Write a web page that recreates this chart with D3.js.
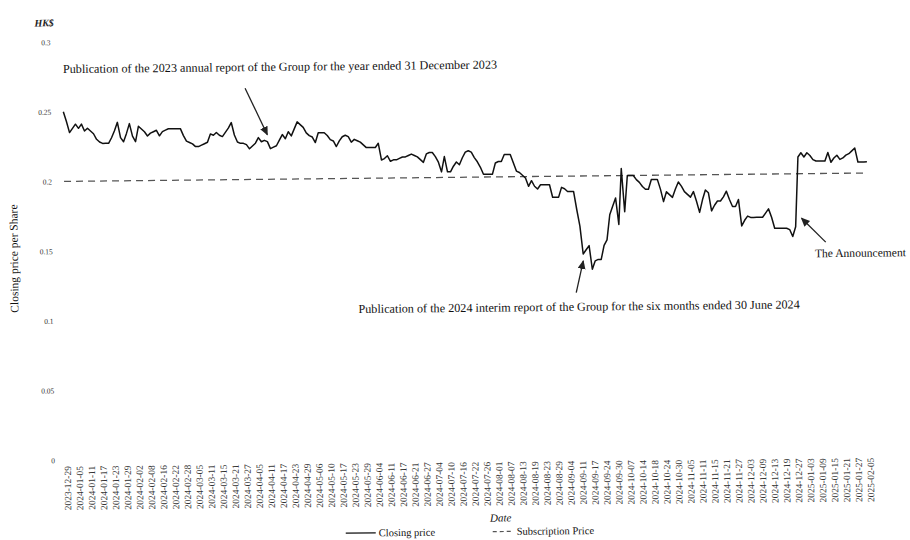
<!DOCTYPE html>
<html>
<head>
<meta charset="utf-8">
<script src="https://cdn.jsdelivr.net/npm/d3@7"></script>
<style>
  body { margin: 0; background: #fff; }
  svg { display: block; font-family: "Liberation Serif", "DejaVu Serif", serif; }
</style>
</head>
<body>
<div id="chart"></div>
<script>
// x tick labels, one every 4 trading days
const tickLabels = [
  "2023-12-29", "2024-01-05", "2024-01-11", "2024-01-17", "2024-01-23", "2024-01-29",
  "2024-02-02", "2024-02-08", "2024-02-16", "2024-02-22", "2024-02-28", "2024-03-05",
  "2024-03-11", "2024-03-15", "2024-03-21", "2024-03-27", "2024-04-05", "2024-04-11",
  "2024-04-17", "2024-04-23", "2024-04-29", "2024-05-06", "2024-05-10", "2024-05-17",
  "2024-05-23", "2024-05-29", "2024-06-04", "2024-06-11", "2024-06-17", "2024-06-21",
  "2024-06-27", "2024-07-04", "2024-07-10", "2024-07-16", "2024-07-22", "2024-07-26",
  "2024-08-01", "2024-08-07", "2024-08-13", "2024-08-19", "2024-08-23", "2024-08-29",
  "2024-09-04", "2024-09-11", "2024-09-17", "2024-09-24", "2024-09-30", "2024-10-07",
  "2024-10-14", "2024-10-18", "2024-10-24", "2024-10-30", "2024-11-05", "2024-11-11",
  "2024-11-15", "2024-11-21", "2024-11-27", "2024-12-03", "2024-12-09", "2024-12-13",
  "2024-12-19", "2024-12-27", "2025-01-03", "2025-01-09", "2025-01-15", "2025-01-21",
  "2025-01-27", "2025-02-05"
];
const tickStep = 4;

// daily closing price (HK$)
const closingPrice = [
  0.250, 0.243, 0.235, 0.238, 0.241, 0.238, 0.241, 0.236, 0.238, 0.236,
  0.234, 0.230, 0.228, 0.227, 0.227, 0.227, 0.231, 0.236, 0.242, 0.231,
  0.228, 0.234, 0.241, 0.232, 0.228, 0.239, 0.237, 0.235, 0.232, 0.234,
  0.235, 0.236, 0.232, 0.235, 0.236, 0.237, 0.237, 0.237, 0.237, 0.237,
  0.232, 0.228, 0.227, 0.226, 0.224, 0.224, 0.225, 0.226, 0.227, 0.233,
  0.232, 0.234, 0.232, 0.231, 0.234, 0.237, 0.241, 0.232, 0.227, 0.226,
  0.226, 0.225, 0.222, 0.224, 0.226, 0.230, 0.227, 0.228, 0.227, 0.222,
  0.223, 0.224, 0.228, 0.232, 0.229, 0.234, 0.231, 0.236, 0.241, 0.239,
  0.237, 0.233, 0.231, 0.230, 0.226, 0.233, 0.233, 0.233, 0.231, 0.228,
  0.227, 0.223, 0.227, 0.230, 0.231, 0.230, 0.226, 0.228, 0.227, 0.226,
  0.224, 0.222, 0.222, 0.222, 0.222, 0.225, 0.213, 0.214, 0.216, 0.212,
  0.213, 0.213, 0.214, 0.215, 0.215, 0.216, 0.217, 0.216, 0.215, 0.213,
  0.211, 0.217, 0.218, 0.218, 0.215, 0.211, 0.204, 0.215, 0.204, 0.204,
  0.208, 0.211, 0.209, 0.214, 0.218, 0.219, 0.218, 0.214, 0.211, 0.207,
  0.202, 0.202, 0.202, 0.202, 0.210, 0.211, 0.211, 0.216, 0.216, 0.216,
  0.210, 0.204, 0.203, 0.201, 0.199, 0.193, 0.197, 0.193, 0.191, 0.194,
  0.194, 0.194, 0.194, 0.185, 0.185, 0.185, 0.192, 0.191, 0.189, 0.189,
  0.189, 0.176, 0.164, 0.144, 0.147, 0.150, 0.133, 0.139, 0.140, 0.140,
  0.150, 0.154, 0.172, 0.178, 0.184, 0.165, 0.205, 0.174, 0.200, 0.200,
  0.200, 0.197, 0.195, 0.192, 0.190, 0.190, 0.197, 0.197, 0.197, 0.190,
  0.181, 0.188, 0.186, 0.184, 0.190, 0.195, 0.192, 0.188, 0.186, 0.184,
  0.188, 0.181, 0.173, 0.182, 0.189, 0.187, 0.174, 0.178, 0.181, 0.181,
  0.184, 0.188, 0.182, 0.177, 0.177, 0.182, 0.163, 0.167, 0.170, 0.169,
  0.169, 0.169, 0.169, 0.169, 0.172, 0.175, 0.169, 0.161, 0.161, 0.161,
  0.161, 0.161, 0.160, 0.155, 0.162, 0.212, 0.215, 0.212, 0.215, 0.213,
  0.210, 0.209, 0.209, 0.209, 0.209, 0.215, 0.208, 0.211, 0.213, 0.210,
  0.211, 0.213, 0.214, 0.216, 0.218, 0.208, 0.208, 0.208, 0.208
];

const subscriptionPrice = 0.2;
const yTicks = [0, 0.05, 0.1, 0.15, 0.2, 0.25, 0.3];

// annotations: text, where the text sits, where the arrow starts, and the point it aims at
const notes = [
  { text: "Publication of the 2023 annual report of the Group for the year ended 31 December 2023", size: 12.2, idx: 68, val: 0.232, tx: 65, ty: 69, ax: 247, ay: 86 },
  { text: "Publication of the 2024 interim report of the Group for the six months ended 30 June 2024", size: 12.2, idx: 173, val: 0.139, tx: 358, ty: 312, ax: 576, ay: 294 },
  { text: "The Announcement", size: 11.6, idx: 246, val: 0.168, tx: 815, ty: 261, ax: 826, ay: 246 }
];

const width = 910;
const height = 540;

const svg = d3.select("#chart")
  .append("svg")
  .attr("width", width)
  .attr("height", height);

svg.append("defs")
  .append("marker")
  .attr("id", "arrow")
  .attr("markerWidth", 10)
  .attr("markerHeight", 10)
  .attr("refX", 8)
  .attr("refY", 4)
  .attr("orient", "auto")
  .attr("markerUnits", "userSpaceOnUse")
  .append("path")
  .attr("fill", "#222")
  .attr("d", "M0,0 L9,4 L0,8 z");

// the scanned original is tilted a little
const g = svg.append("g").attr("transform", "rotate(-0.6,455,270)");

const x = d3.scaleLinear()
  .domain([0, closingPrice.length - 1])
  .range([65, 868]);

const y = d3.scaleLinear()
  .domain([0, 0.3])
  .range([456, 38]);

// y axis (labels only)
const yAxis = g.append("g")
  .attr("transform", "translate(56,0)")
  .call(d3.axisLeft(y).tickValues(yTicks).tickSize(0).tickFormat(d3.format("")));
yAxis.select(".domain").remove();
yAxis.selectAll("text")
  .attr("font-family", "Liberation Serif")
  .attr("font-size", 7.5)
  .attr("fill", "#333");

// x axis (rotated labels only)
const xAxis = g.append("g")
  .attr("transform", "translate(0,460)")
  .call(d3.axisBottom(x)
    .tickValues(tickLabels.map((d, i) => i * tickStep))
    .tickSize(0)
    .tickFormat((d) => tickLabels[d / tickStep]));
xAxis.select(".domain").remove();
xAxis.selectAll("text")
  .attr("font-family", "Liberation Serif")
  .attr("font-size", 9.5)
  .attr("fill", "#333")
  .attr("text-anchor", "end")
  .attr("transform", "rotate(-90)")
  .attr("x", -2)
  .attr("y", 0)
  .attr("dy", "0.35em");

// subscription price
g.append("line")
  .attr("x1", x(0))
  .attr("x2", x(closingPrice.length - 1))
  .attr("y1", y(subscriptionPrice))
  .attr("y2", y(subscriptionPrice))
  .attr("stroke", "#555")
  .attr("stroke-width", 1.3)
  .attr("stroke-dasharray", "7,5");

// closing price
const line = d3.line()
  .x((d, i) => x(i))
  .y((d) => y(d));

g.append("path")
  .datum(closingPrice)
  .attr("fill", "none")
  .attr("stroke", "#111")
  .attr("stroke-width", 1.5)
  .attr("stroke-linejoin", "round")
  .attr("d", line);

// annotations
notes.forEach((n) => {
  g.append("text")
    .attr("x", n.tx)
    .attr("y", n.ty)
    .attr("font-size", n.size)
    .attr("fill", "#111")
    .text(n.text);
  g.append("line")
    .attr("x1", n.ax)
    .attr("y1", n.ay)
    .attr("x2", x(n.idx))
    .attr("y2", y(n.val))
    .attr("stroke", "#222")
    .attr("stroke-width", 1.3)
    .attr("marker-end", "url(#arrow)");
});

// titles
g.append("text")
  .attr("x", 37)
  .attr("y", 22)
  .attr("font-size", 10)
  .attr("font-style", "italic")
  .attr("font-weight", "bold")
  .attr("fill", "#222")
  .text("HK$");

g.append("text")
  .attr("transform", "translate(18,254) rotate(-90)")
  .attr("text-anchor", "middle")
  .attr("font-size", 11.5)
  .attr("fill", "#111")
  .text("Closing price per Share");

g.append("text")
  .attr("x", 498)
  .attr("y", 522)
  .attr("text-anchor", "middle")
  .attr("font-size", 11)
  .attr("font-style", "italic")
  .attr("fill", "#111")
  .text("Date");

// legend
const legend = g.append("g").attr("transform", "translate(343,532)");
legend.append("line")
  .attr("x1", 0).attr("x2", 30).attr("y1", 0).attr("y2", 0)
  .attr("stroke", "#111").attr("stroke-width", 1.2);
legend.append("text")
  .attr("x", 33).attr("y", 3.5)
  .attr("font-size", 10.5).attr("fill", "#111")
  .text("Closing price");
legend.append("line")
  .attr("x1", 147).attr("x2", 168).attr("y1", 0).attr("y2", 0)
  .attr("stroke", "#555").attr("stroke-width", 1.2)
  .attr("stroke-dasharray", "4,3");
legend.append("text")
  .attr("x", 171).attr("y", 3.5)
  .attr("font-size", 10.5).attr("fill", "#111")
  .text("Subscription Price");
</script>
</body>
</html>
